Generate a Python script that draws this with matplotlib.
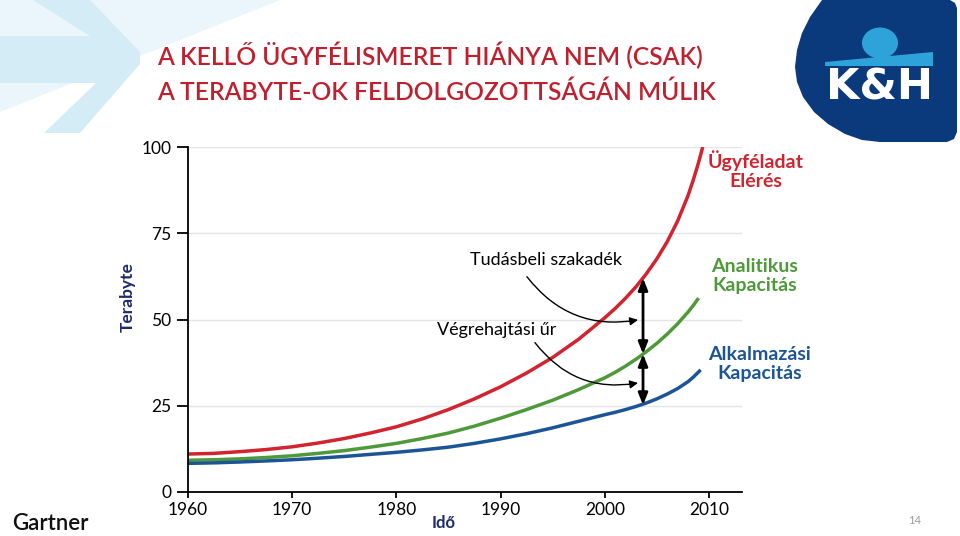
import matplotlib.pyplot as plt
from matplotlib.patches import Polygon, Ellipse

plt.rcParams['font.family'] = ['Lato', 'DejaVu Sans']

# görbék (leolvasott értékek)
years_red = [1960, 1962.5, 1965, 1967.5, 1970, 1972.5, 1975, 1977.5, 1980, 1982.5, 1985, 1987.5,
             1990, 1992.5, 1995, 1997.5, 2000, 2001, 2002, 2003, 2004, 2005, 2006, 2007, 2008,
             2008.5, 2009, 2009.4]
red = [11.0, 11.2, 11.7, 12.3, 13.1, 14.2, 15.5, 17.1, 18.9, 21.2, 23.9, 27.0,
       30.5, 34.5, 39.0, 44.3, 50.5, 53.2, 56.2, 59.5, 63.3, 67.6, 72.6, 78.6, 86.0,
       90.5, 95.5, 100.0]
years_green = [1960, 1962.5, 1965, 1967.5, 1970, 1972.5, 1975, 1977.5, 1980, 1982.5, 1985, 1987.5,
               1990, 1992.5, 1995, 1997.5, 2000, 2001, 2002, 2003, 2004, 2005, 2006, 2007, 2008,
               2008.5, 2009]
green = [9.2, 9.35, 9.6, 10.0, 10.5, 11.2, 12.0, 13.0, 14.1, 15.5, 17.1, 19.1,
         21.4, 23.9, 26.6, 29.7, 33.1, 34.7, 36.5, 38.5, 40.7, 43.1, 45.8, 48.8, 52.2,
         54.1, 56.2]
years_blue = [1960, 1962.5, 1965, 1967.5, 1970, 1972.5, 1975, 1977.5, 1980, 1982.5, 1985, 1987.5,
              1990, 1992.5, 1995, 1997.5, 2000, 2001, 2002, 2003, 2004, 2005, 2006, 2007, 2008,
              2008.5, 2009.2]
blue = [8.3, 8.45, 8.7, 9.0, 9.35, 9.8, 10.3, 10.9, 11.5, 12.2, 13.0, 14.1,
        15.4, 16.9, 18.6, 20.5, 22.4, 23.1, 23.9, 24.8, 25.8, 27.0, 28.4, 30.0, 32.0,
        33.3, 35.4]

gap_year = 2003.67
gap_top, gap_mid, gap_bot = 62.0, 40.0, 25.2

xticks = [1960, 1970, 1980, 1990, 2000, 2010]
yticks = [0, 25, 50, 75, 100]

c_red = '#d2232f'
c_green = '#4e9a3a'
c_blue = '#1c5596'
c_title = '#c0202e'
c_navy = '#1e2a6a'
c_logo = '#0b3a7c'

fig = plt.figure(figsize=(9.6, 5.36), dpi=100)

# háttér díszítés pixelben
bg = fig.add_axes([0, 0, 1, 1], zorder=0)
bg.set_xlim(0, 960)
bg.set_ylim(536, 0)
bg.axis('off')
bg.add_patch(Polygon([(0, 0), (280, 0), (0, 112)], closed=True, fc='#eaf6fb', ec='none'))
bg.add_patch(Polygon([(33, 0), (90, 0), (140, 52), (140, 64), (80, 133), (44, 133), (96, 83),
                      (0, 83), (0, 36), (90, 36)], closed=True, fc='#d4ecf6', ec='none'))
# K&H logo
logo = [(822, 0), (950, 0), (955, 3), (957, 8), (957, 132), (954, 139), (947, 142), (880, 142),
        (862, 140), (845, 134), (828, 124), (814, 112), (803, 97), (797, 82), (795, 67),
        (797, 50), (802, 33), (810, 17)]
bg.add_patch(Polygon(logo, closed=True, fc=c_logo, ec='none'))
bg.add_patch(Ellipse((880, 43), 36, 31, fc='#2ea3da', ec='none'))
bg.add_patch(Polygon([(825, 62), (933, 52), (933, 66), (825, 66)], closed=True, fc='#2ea3da', ec='none'))
bg.text(880, 87, 'K&H', color='white', fontsize=31, fontweight='heavy', family='DejaVu Sans',
        ha='center', va='center')

bg.text(157, 55, 'A KELLŐ ÜGYFÉLISMERET HIÁNYA NEM (CSAK)', color=c_title, fontsize=17.7,
        fontweight='semibold', ha='left', va='center')
bg.text(157, 92, 'A TERABYTE-OK FELDOLGOZOTTSÁGÁN MÚLIK', color=c_title, fontsize=17.7,
        fontweight='semibold', ha='left', va='center')
bg.text(12, 524, 'Gartner', color='#111111', fontsize=16, fontweight='semibold', ha='left', va='center')
bg.text(915, 520, '14', color='#9a9a9a', fontsize=8, ha='center', va='center')
bg.text(444, 523, 'Idő', color=c_navy, fontsize=12, fontweight='bold', ha='center', va='center')
bg.text(128, 297, 'Terabyte', color=c_navy, fontsize=12.5, fontweight='bold', rotation=90,
        ha='center', va='center')

ax = fig.add_axes([188 / 960, 44 / 536, 554 / 960, 345 / 536], zorder=1)
ax.patch.set_alpha(0)
ax.set_xlim(1960, 2013.17)
ax.set_ylim(0, 100)
ax.set_xticks(xticks)
ax.set_yticks(yticks)
for s in ['top', 'right']:
    ax.spines[s].set_visible(False)
for s in ['left', 'bottom']:
    ax.spines[s].set_linewidth(1.3)
ax.tick_params(axis='y', length=8, width=1.3, labelsize=12.5, pad=4)
ax.tick_params(axis='x', length=4.5, width=1.3, labelsize=12.5, pad=3)
for y in yticks[1:]:
    ax.axhline(y, color='#e4e4e4', lw=1, zorder=0)

ax.plot(years_red, red, color=c_red, lw=2.5, solid_capstyle='butt', solid_joinstyle='round')
ax.plot(years_green, green, color=c_green, lw=2.5, solid_capstyle='butt', solid_joinstyle='round')
ax.plot(years_blue, blue, color=c_blue, lw=2.5, solid_capstyle='butt', solid_joinstyle='round')

ax.annotate('', xy=(gap_year, gap_top), xytext=(gap_year, gap_mid),
            arrowprops=dict(arrowstyle='<|-|>,head_length=0.5,head_width=0.2', color='black',
                            lw=2, mutation_scale=14, shrinkA=0, shrinkB=0))
ax.annotate('', xy=(gap_year, gap_mid), xytext=(gap_year, gap_bot),
            arrowprops=dict(arrowstyle='<|-|>,head_length=0.5,head_width=0.2', color='black',
                            lw=2, mutation_scale=14, shrinkA=0, shrinkB=0))

ax.text(1994.36, 67.3, 'Tudásbeli szakadék', fontsize=13, ha='center', va='center')
ax.text(1989.65, 47.0, 'Végrehajtási űr', fontsize=13, ha='center', va='center')
ax.annotate('', xy=(2003.19, 49.9), xytext=(1992.53, 62.4),
            arrowprops=dict(arrowstyle='-|>', color='black', lw=1, mutation_scale=12,
                            connectionstyle='arc3,rad=0.3', shrinkA=0, shrinkB=0))
ax.annotate('', xy=(2003.19, 31.6), xytext=(1993.3, 43.3),
            arrowprops=dict(arrowstyle='-|>', color='black', lw=1, mutation_scale=12,
                            connectionstyle='arc3,rad=0.3', shrinkA=0, shrinkB=0))

ax.text(2014.5, 93.3, 'Ügyféladat\nElérés', color=c_red, fontsize=14, fontweight='bold',
        ha='center', va='center', linespacing=1.1, clip_on=False)
ax.text(2014.4, 62.6, 'Analitikus\nKapacitás', color=c_green, fontsize=14, fontweight='bold',
        ha='center', va='center', linespacing=1.1, clip_on=False)
ax.text(2014.84, 37.1, 'Alkalmazási\nKapacitás', color=c_blue, fontsize=14, fontweight='bold',
        ha='center', va='center', linespacing=1.1, clip_on=False)

fig.savefig('out.png', dpi=100)
